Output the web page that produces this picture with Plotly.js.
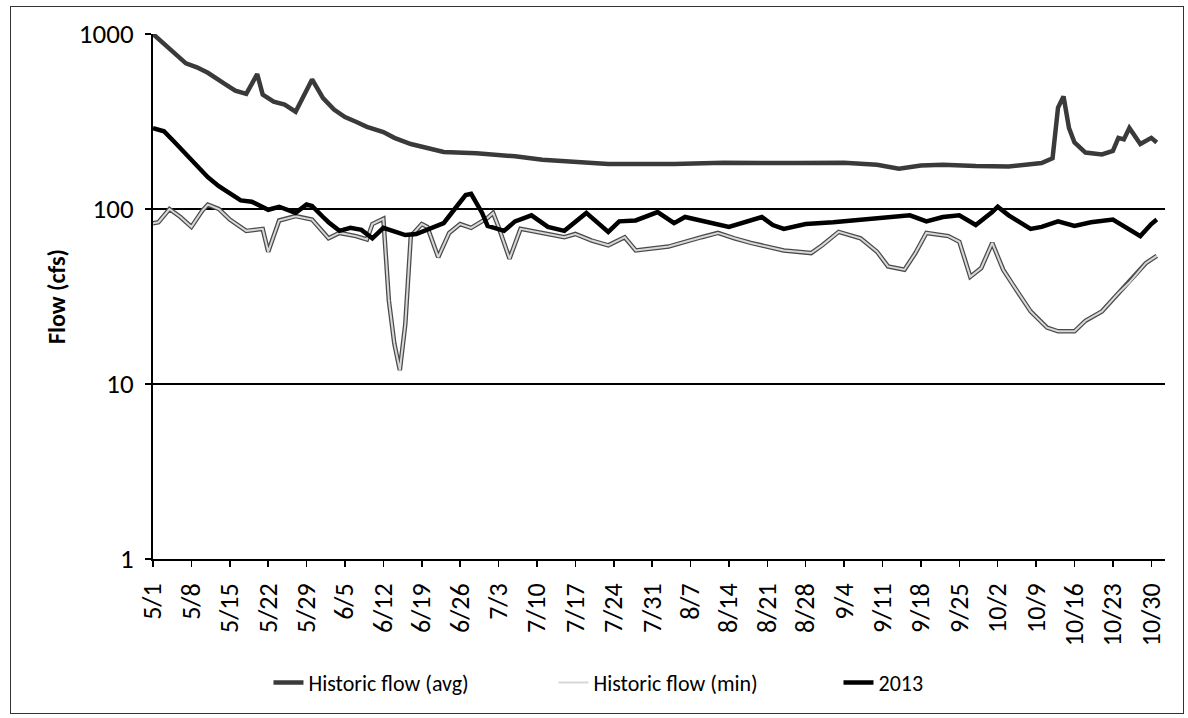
<!DOCTYPE html>
<html>
<head>
<meta charset="utf-8">
<script src="https://cdn.plot.ly/plotly-3.0.1.min.js"></script>
<style>
  html, body { margin: 0; padding: 0; background: #fff; }
  #chart { width: 1188px; height: 718px; }
  #frame { position: absolute; left: 10px; top: 6px; width: 1172px; height: 706px;
           border: 1.5px solid #333; pointer-events: none; }
</style>
</head>
<body>
<div id="chart"></div>
<div id="frame"></div>
<script>
// ---- data ----
const year = 2013;

const avgDates = ['5/1','5/3','5/5','5/7','5/9','5/11','5/14','5/16','5/18','5/20','5/21','5/23','5/25','5/27','5/30',
  '6/1','6/3','6/5','6/7','6/9','6/12','6/14','6/17','6/20','6/23','6/29','7/6','7/11','7/17','7/23','8/4','8/13','8/26',
  '9/4','9/10','9/14','9/18','9/22','9/28','10/4','10/10','10/12','10/13','10/14','10/15','10/16','10/18','10/21','10/23',
  '10/24','10/25','10/26','10/28','10/30','10/31'];
const avgFlow = [1000,880,760,680,645,600,520,475,455,590,450,410,395,360,550,
  430,370,335,315,295,275,255,235,222,212,208,200,191,185,181,181,184,183,
  184,179,170,177,179,176,175,183,195,380,440,290,240,210,205,215,
  255,250,290,235,255,240];

const minDates = ['5/1','5/2','5/4','5/6','5/8','5/10','5/11','5/13','5/15','5/18','5/21','5/22','5/24','5/27','5/30',
  '6/2','6/4','6/7','6/9','6/10','6/12','6/13','6/14','6/15','6/16','6/17','6/19','6/20','6/22','6/24','6/26','6/28',
  '7/1','7/2','7/3','7/5','7/7','7/10','7/15','7/17','7/20','7/23','7/26','7/28','8/3','8/9','8/12','8/15','8/18',
  '8/24','8/29','8/31','9/3','9/7','9/10','9/12','9/15','9/17','9/19','9/23','9/25','9/27','9/29',
  '10/1','10/3','10/5','10/8','10/11','10/13','10/16','10/18','10/21','10/24','10/26','10/29','10/31'];
const minFlow = [83,84,100,90,79,98,106,100,87,75,77,57,86,91,87,
  68,73,70,67,82,88,30,17,12,22,70,82,79,53,73,82,78,
  89,95,79,52,77,74,69,72,66,62,69,58,61,69,73,68,64,
  58,56,62,74,68,57,47,45,56,73,70,65,41,46,
  64,45,36,26,21,20,20,23,26,33,38,49,54];

const y2013Dates = ['5/1','5/3','5/5','5/7','5/9','5/11','5/13','5/15','5/17','5/19','5/22','5/24','5/26','5/27','5/29','5/30',
  '6/1','6/2','6/4','6/6','6/8','6/10','6/12','6/14','6/16','6/18','6/20','6/23','6/25','6/27','6/28','6/30',
  '7/1','7/3','7/4','7/6','7/9','7/12','7/15','7/19','7/23','7/25','7/28','8/1','8/4','8/6','8/8','8/14','8/20',
  '8/22','8/24','8/28','9/2','9/8','9/12','9/16','9/19','9/22','9/25','9/28','10/1','10/2','10/4','10/8','10/10',
  '10/13','10/16','10/19','10/23','10/26','10/28','10/30','10/31'];
const y2013Flow = [290,278,240,205,175,152,135,122,112,110,99,103,97,95,106,104,
  90,84,75,78,76,68,78,74,71,72,76,83,100,120,122,95,
  80,76,75,85,92,79,75,95,74,85,86,96,83,90,87,79,90,
  81,77,82,84,87,90,92,85,90,92,81,96,103,92,77,79,
  85,80,84,87,77,70,82,87];

const yTickVals = [1, 10, 100, 1000];
const yTickText = ['1', '10', '100', '1000'];

const seriesNames = ['Historic flow (avg)', 'Historic flow (min)', '2013'];

// ---- helpers ----
function toIso(md) {
  const [m, d] = md.split('/').map(Number);
  return year + '-' + String(m).padStart(2, '0') + '-' + String(d).padStart(2, '0');
}

const FONT = 'Carlito, Calibri, Lato, "Noto Sans", sans-serif';

const traces = [
  {
    x: avgDates.map(toIso), y: avgFlow, type: 'scatter', mode: 'lines',
    name: seriesNames[0], line: { color: '#3a3a3a', width: 4.5 }
  },
  {
    x: minDates.map(toIso), y: minFlow, type: 'scatter', mode: 'lines',
    name: seriesNames[1] + ' outline', showlegend: false, hoverinfo: 'skip',
    line: { color: '#4a4a4a', width: 4.5 }
  },
  {
    x: minDates.map(toIso), y: minFlow, type: 'scatter', mode: 'lines',
    name: seriesNames[1], line: { color: '#d8d8d8', width: 2 }
  },
  {
    x: y2013Dates.map(toIso), y: y2013Flow, type: 'scatter', mode: 'lines',
    name: seriesNames[2], line: { color: '#000000', width: 4.5 }
  }
];

const layout = {
  width: 1188, height: 718,
  paper_bgcolor: '#ffffff', plot_bgcolor: '#ffffff',
  margin: { l: 153, r: 23, t: 34, b: 159 },
  font: { family: FONT, color: '#000', size: 22 },
  showlegend: true,
  legend: {
    orientation: 'h', xref: 'container', yref: 'container',
    x: 0.226, xanchor: 'left', y: 0.049, yanchor: 'middle',
    font: { family: FONT, size: 22, color: '#000' },
    entrywidth: 240, entrywidthmode: 'pixels',
    bgcolor: 'rgba(0,0,0,0)', traceorder: 'normal'
  },
  xaxis: {
    type: 'date',
    range: ['2013-05-01', '2013-11-01 12:00'],
    tickmode: 'linear', tick0: '2013-05-01', dtick: 7 * 86400000,
    tickformat: '%-m/%-d', tickangle: -90,
    ticks: 'outside', ticklen: 6, tickwidth: 1.5, tickcolor: '#000',
    ticklabelstandoff: 6,
    showline: true, linecolor: '#000', linewidth: 2,
    showgrid: false, zeroline: false,
    tickfont: { family: FONT, size: 26, color: '#000' },
    fixedrange: true
  },
  yaxis: {
    type: 'log', range: [0, 3],
    tickmode: 'array', tickvals: yTickVals, ticktext: yTickText,
    ticks: 'outside', ticklen: 6, tickwidth: 1.5, tickcolor: '#000',
    ticklabelstandoff: 6,
    showline: true, linecolor: '#000', linewidth: 2,
    showgrid: true, gridcolor: '#000', gridwidth: 1.5,
    zeroline: false,
    tickfont: { family: FONT, size: 27, color: '#000' },
    title: { text: '<b>Flow (cfs)</b>', font: { family: FONT, size: 24, color: '#000' }, standoff: 6 },
    fixedrange: true
  }
};

Plotly.newPlot('chart', traces, layout, { displayModeBar: false, staticPlot: true });
</script>
</body>
</html>
